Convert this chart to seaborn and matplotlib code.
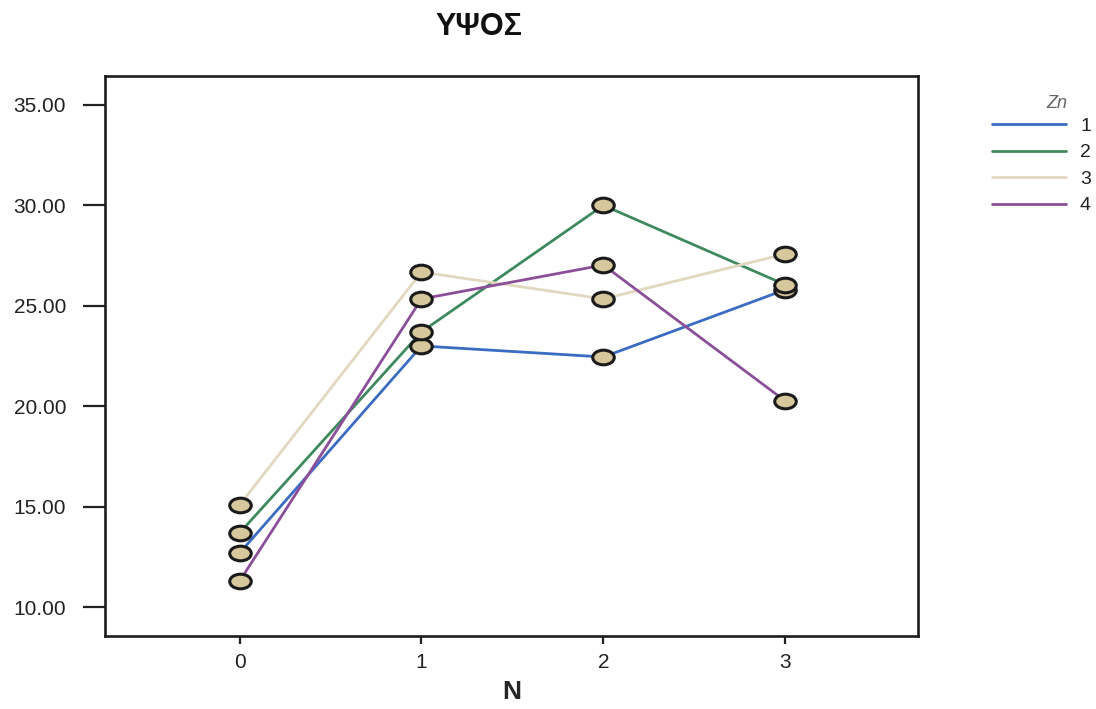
import numpy as np
import pandas as pd
import matplotlib
matplotlib.use("Agg")
import matplotlib.pyplot as plt
from matplotlib.path import Path
from matplotlib.lines import Line2D
import seaborn as sns

# values
n_levels = [0, 1, 2, 3]
zn_1 = [12.69, 23.00, 22.45, 25.80]
zn_2 = [13.69, 23.70, 30.00, 26.05]
zn_3 = [15.08, 26.68, 25.34, 27.58]
zn_4 = [11.29, 25.34, 27.03, 20.26]
zn_labels = ["1", "2", "3", "4"]
zn_colors = ["#3b6cc4", "#3e8a5e", "#e2d8c0", "#8b4f99"]

df = pd.DataFrame({
    "N": n_levels * 4,
    "value": zn_1 + zn_2 + zn_3 + zn_4,
    "Zn": [lab for lab in zn_labels for _ in n_levels],
})

sns.set_style("white")
plt.rcParams["font.family"] = ["Liberation Sans", "DejaVu Sans"]

# elliptical marker
circle = Path.unit_circle()
ellipse = Path(circle.vertices * np.array([1.0, 0.68]), circle.codes)

fig = plt.figure(figsize=(10.96, 7.09), dpi=100)
ax = fig.add_axes([0.0958, 0.103, 0.7418, 0.7898])
ax.set_facecolor("white")

sns.lineplot(data=df, x="N", y="value", hue="Zn", palette=zn_colors,
             linewidth=2.0, legend=False, ax=ax, sort=False)
ax.scatter(df["N"], df["value"], marker=ellipse, s=240, c="#d7c79c",
           edgecolors="#1a1a1a", linewidths=2.2, zorder=5)

ax.set_xlim(-0.74, 3.73)
ax.set_ylim(8.56, 36.44)
ax.set_xticks(n_levels)
ax.set_yticks([10, 15, 20, 25, 30, 35])
ax.set_yticklabels([f"{v:.2f}" for v in [10, 15, 20, 25, 30, 35]])
ax.tick_params(axis="y", length=16, width=1.6, labelsize=15, colors="#222222", pad=12)
ax.tick_params(axis="x", length=6, width=1.6, labelsize=15, colors="#222222", pad=6)
ax.tick_params(axis="both", left=True, bottom=True, direction="out")
for sp in ax.spines.values():
    sp.set_visible(True)
    sp.set_color("#1c1c1c")
    sp.set_linewidth(1.9)

ax.set_xlabel("N", fontsize=19, fontweight="bold", labelpad=6)
ax.set_ylabel("")
fig.text(0.437, 0.962, "ΥΨΟΣ", ha="center", va="center",
         fontsize=22, fontweight="bold", color="#111111")

# legend drawn outside the axes on the right
W, H = 1096, 709
fig.text(1057 / W, 1 - 103 / H, "Zn", ha="center", va="center",
         fontsize=13, color="#666666", style="italic")
for i, (lab, col) in enumerate(zip(zn_labels, zn_colors)):
    yy = 1 - (124 + i * 26.5) / H
    fig.add_artist(Line2D([992 / W, 1066 / W], [yy, yy], color=col, lw=2.0,
                          transform=fig.transFigure))
    fig.text(1080 / W, yy - 0.003, lab, ha="left", va="center",
             fontsize=14, color="#222222")

fig.savefig("out.png", dpi=100)
